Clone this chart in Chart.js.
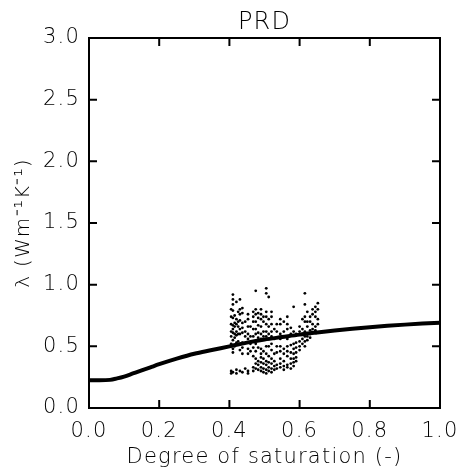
<!DOCTYPE html>
<html>
<head>
<meta charset="utf-8">
<script src="https://cdn.jsdelivr.net/npm/chart.js@4/dist/chart.umd.min.js"></script>
<style>
html,body{margin:0;padding:0;background:#fff;}
#wrap{width:460px;height:474px;}
</style>
</head>
<body>
<div id="wrap"><canvas id="c" width="460" height="474"></canvas></div>
<script>
// ---- data ----
const titleText = "PRD";
const xTitle = "Degree of saturation (-)";
const yTitle = "λ (Wm⁻¹K⁻¹)";
const xTicks = [0.0, 0.2, 0.4, 0.6, 0.8, 1.0];
const yTicks = [0.0, 0.5, 1.0, 1.5, 2.0, 2.5, 3.0];

// model curve
const curveSr = [0.00,0.03,0.06,0.08,0.10,0.125,0.15,0.175,0.20,0.25,0.30,0.35,0.40,0.45,0.50,0.55,0.60,0.65,0.70,0.75,0.80,0.85,0.90,0.95,1.00];
const curveLam = [0.225,0.225,0.228,0.24,0.255,0.28,0.305,0.33,0.355,0.40,0.44,0.47,0.50,0.53,0.555,0.575,0.595,0.612,0.628,0.642,0.655,0.666,0.676,0.685,0.692];

// measured points, grouped by saturation column
const obsSr = [0.405,0.410,0.415,0.420,0.425,0.430,0.437,0.445,0.453,0.460,0.468,0.475,0.482,0.490,0.497,0.505,0.512,0.520,0.528,0.535,0.545,0.555,0.565,0.575,0.583,0.590,0.600,0.608,0.615,0.622,0.630,0.637,0.645,0.652];
const obsLam = [
  [0.80,0.74,0.68,0.62,0.58,0.52,0.30,0.28],
  [0.92,0.88,0.84,0.79,0.73,0.67,0.64,0.61,0.55,0.48,0.45,0.29],
  [0.75,0.69,0.66,0.60,0.57,0.50],
  [0.86,0.72,0.68,0.62,0.59,0.53,0.31,0.28],
  [0.78,0.70,0.66,0.60,0.54],
  [0.88,0.80,0.76,0.71,0.64,0.60,0.52,0.47,0.30],
  [0.81,0.77,0.69,0.65,0.61,0.53,0.49,0.44,0.29],
  [0.70,0.62,0.58,0.32],
  [0.76,0.72,0.66,0.60,0.56,0.48,0.44,0.30,0.28],
  [0.66,0.58,0.52,0.46],
  [0.78,0.74,0.70,0.64,0.58,0.54,0.49,0.42,0.33,0.30],
  [0.95,0.80,0.76,0.70,0.64,0.60,0.52,0.46,0.40,0.36,0.32],
  [0.77,0.73,0.67,0.61,0.57,0.49,0.38,0.35,0.31],
  [0.80,0.76,0.72,0.66,0.60,0.56,0.48,0.44,0.41,0.37,0.33,0.30],
  [0.74,0.70,0.62,0.58,0.46,0.40,0.36,0.32,0.29],
  [0.97,0.93,0.78,0.74,0.68,0.62,0.58,0.50,0.44,0.38,0.35,0.31,0.28],
  [0.90,0.72,0.66,0.60,0.56,0.50,0.42,0.37,0.33,0.30],
  [0.78,0.74,0.68,0.62,0.58,0.52,0.47,0.40,0.36,0.32,0.29],
  [0.64,0.56,0.44,0.38,0.34,0.31],
  [0.68,0.62,0.50,0.45,0.35,0.32],
  [0.72,0.68,0.60,0.56,0.50,0.46,0.40,0.36,0.33],
  [0.70,0.62,0.58,0.48,0.44,0.38,0.34,0.31],
  [0.74,0.68,0.64,0.56,0.50,0.46,0.42,0.35,0.33],
  [0.65,0.60,0.51,0.45,0.40,0.36,0.32],
  [0.82,0.62,0.52,0.48,0.44,0.40,0.37,0.34],
  [0.60,0.53,0.49,0.45,0.41,0.38],
  [0.66,0.62,0.54,0.50,0.47],
  [0.72,0.64,0.60,0.56,0.52],
  [0.93,0.84,0.74,0.70,0.62,0.58,0.54,0.50],
  [0.78,0.70,0.66,0.58,0.55],
  [0.74,0.70,0.63,0.60,0.57],
  [0.80,0.76,0.68,0.64,0.61],
  [0.82,0.78,0.74,0.66,0.63],
  [0.85,0.80,0.72,0.68]
];

// ---- build datasets ----
const curveData = curveSr.map((x, i) => ({x, y: curveLam[i]}));
const obsData = [];
obsSr.forEach((x, i) => obsLam[i].forEach(y => obsData.push({x, y})));

const FONT = "'DejaVu Sans', 'Liberation Sans', sans-serif";

const spacing = {
  id: 'spacing',
  beforeDraw(chart) { try { chart.ctx.letterSpacing = '1.2px'; } catch (e) {} }
};

const frame = {
  id: 'frame',
  afterDatasetsDraw(chart) {
    const {ctx, chartArea: a, scales} = chart;
    ctx.save();
    ctx.strokeStyle = '#000';
    ctx.lineWidth = 2;
    ctx.strokeRect(a.left, a.top, a.right - a.left, a.bottom - a.top);
    const L = 8;
    ctx.beginPath();
    scales.x.ticks.forEach(t => {
      const px = scales.x.getPixelForValue(t.value);
      if (px <= a.left + 1 || px >= a.right - 1) return;
      ctx.moveTo(px, a.bottom); ctx.lineTo(px, a.bottom - L);
      ctx.moveTo(px, a.top); ctx.lineTo(px, a.top + L);
    });
    scales.y.ticks.forEach(t => {
      const py = scales.y.getPixelForValue(t.value);
      if (py <= a.top + 1 || py >= a.bottom - 1) return;
      ctx.moveTo(a.left, py); ctx.lineTo(a.left + L, py);
      ctx.moveTo(a.right, py); ctx.lineTo(a.right - L, py);
    });
    ctx.stroke();
    ctx.restore();
  }
};

new Chart(document.getElementById('c'), {
  type: 'scatter',
  data: {
    datasets: [
      {
        label: 'model',
        data: curveData,
        showLine: true,
        borderColor: '#000',
        borderWidth: 4,
        pointRadius: 0,
        cubicInterpolationMode: 'monotone',
        fill: false
      },
      {
        label: 'observed',
        data: obsData,
        showLine: false,
        backgroundColor: '#000',
        borderColor: '#000',
        borderWidth: 0,
        pointRadius: 1.4,
        pointHoverRadius: 1.4
      }
    ]
  },
  options: {
    responsive: false,
    animation: false,
    events: [],
    layout: {padding: {left: 0, right: 0, top: 0, bottom: 0}},
    plugins: {
      legend: {display: false},
      tooltip: {enabled: false},
      title: {display: false}
    },
    scales: {
      x: {
        type: 'linear',
        min: 0, max: 1,
        afterBuildTicks: s => { s.ticks = xTicks.map(v => ({value: v})); },
        afterFit: s => { s.height = 66; s.paddingRight = 20; },
        grid: {display: false, drawTicks: false},
        border: {display: false},
        ticks: {
          color: '#000',
          font: {family: FONT, size: 21, weight: 200},
          padding: 11,
          maxRotation: 0,
          callback: v => Number(v).toFixed(1)
        },
        title: {
          display: true,
          text: xTitle,
          color: '#000',
          font: {family: FONT, size: 21, weight: 200},
          padding: {top: 0, bottom: 4}
        }
      },
      xTop: {
        type: 'linear',
        position: 'top',
        min: 0, max: 1,
        afterFit: s => { s.height = 38; s.paddingRight = 20; },
        grid: {display: false, drawTicks: false},
        border: {display: false},
        ticks: {display: false},
        title: {
          display: true,
          text: titleText,
          color: '#000',
          font: {family: FONT, size: 24, weight: 200, lineHeight: 1.2},
          padding: {top: 8, bottom: 0}
        }
      },
      y: {
        type: 'linear',
        min: 0, max: 3,
        afterBuildTicks: s => { s.ticks = yTicks.map(v => ({value: v})); },
        afterFit: s => { s.width = 89; },
        grid: {display: false, drawTicks: false},
        border: {display: false},
        ticks: {
          color: '#000',
          font: {family: FONT, size: 21, weight: 200},
          padding: 9,
          callback: v => Number(v).toFixed(1)
        },
        title: {
          display: true,
          text: yTitle,
          color: '#000',
          font: {family: FONT, size: 20, weight: 200},
          padding: {top: 12, bottom: 0}
        }
      }
    }
  },
  plugins: [spacing, frame]
});
</script>
</body>
</html>
